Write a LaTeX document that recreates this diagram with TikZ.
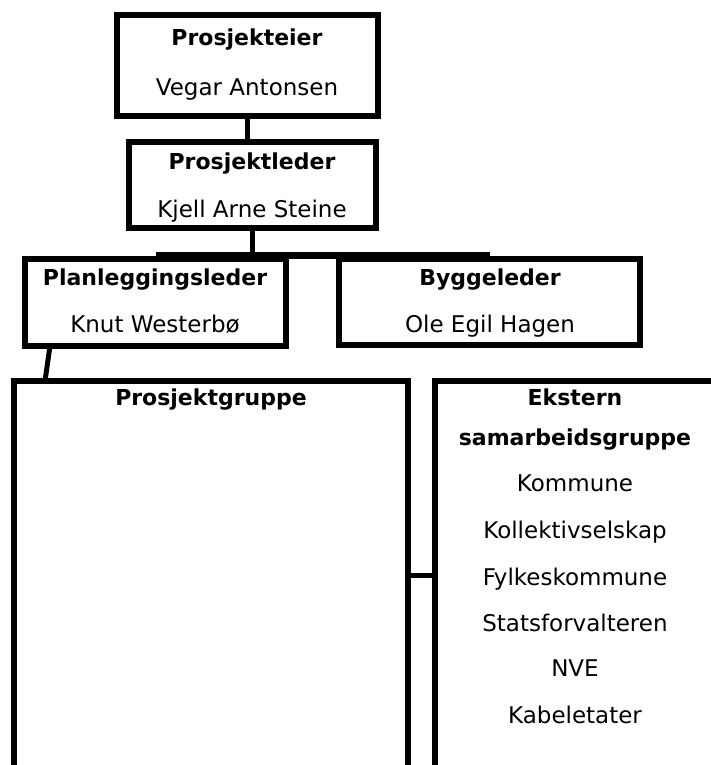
\documentclass[tikz,border=0pt]{standalone}
\usepackage{fontspec}
\setmainfont{DejaVu Sans}
\usepackage{tikz}
\usetikzlibrary{positioning,calc}
\tikzset{
  orgbox/.style={draw=black, line width=5.5pt, fill=white, inner sep=0pt, outer sep=0pt, anchor=north west},
  title/.style={font=\fontsize{22}{26}\selectfont\bfseries, anchor=base},
  person/.style={font=\fontsize{23}{28}\selectfont, anchor=base},
  link/.style={line width=5pt},
  bus/.style={line width=7pt}
}

\begin{document}
\begin{tikzpicture}[x=1pt,y=-1pt]
  \useasboundingbox (0,0) rectangle (711,765);
  \clip (0,0) rectangle (711,765);

  \node[orgbox,minimum width=261pt,minimum height=101pt] (eier) at (117,15) {};
  \node[title] (eierT) at (247,46) {Prosjekteier};
  \node[person] (eierN) at (247,96) {Vegar Antonsen};

  \node[orgbox,minimum width=247pt,minimum height=86pt] (leder) at (129,142) {};
  \node[title] (lederT) at (252,169) {Prosjektleder};
  \node[person] (lederN) at (252,217) {Kjell Arne Steine};

  \node[orgbox,minimum width=261pt,minimum height=87pt] (plan) at (25,259) {};
  \node[title] (planT) at (155,285) {Planleggingsleder};
  \node[person] (planN) at (155,332) {Knut Westerbø};

  \node[orgbox,minimum width=301pt,minimum height=86pt] (bygg) at (339,259) {};
  \node[title] (byggT) at (490,285) {Byggeleder};
  \node[person] (byggN) at (490,332) {Ole Egil Hagen};

  \node[orgbox,minimum width=394pt,minimum height=388pt] (pgruppe) at (14,381) {};
  \node[title] (pgruppeT) at (211,405) {Prosjektgruppe};

  \node[orgbox,minimum width=281pt,minimum height=388pt] (ekstern) at (435,381) {};
  \node[title] (eksternT) at (575,405) {Ekstern};
  \node[title] (eksternS) at (575,445) {samarbeidsgruppe};
  \foreach \name/\y [count=\i] in {Kommune/491,Kollektivselskap/538,Fylkeskommune/585,
      Statsforvalteren/631,NVE/676,Kabeletater/723}
    \node[person] (part\i) at (575,\y) {\name};

  % connectors
  \coordinate (busL) at ([yshift=4pt]plan.north);
  \coordinate (busR) at ([yshift=4pt]bygg.north);
  \draw[link] (eier.south) -- (eier.south |- leder.north);
  \draw[link] (leder.south) -- (leder.south |- busL);
  \draw[bus] (busL) -- (busR);
  \draw[link] ([xshift=25pt]plan.south west) -- ([xshift=31pt]pgruppe.north west);
  \draw[link] (pgruppe.east) -- (ekstern.west);
\end{tikzpicture}
\end{document}
